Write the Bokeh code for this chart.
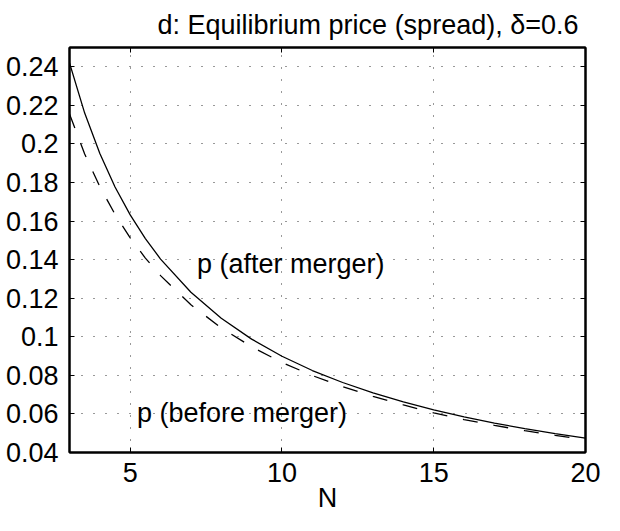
from bokeh.plotting import figure
from bokeh.models import FixedTicker, Label, LinearAxis, Range1d
from bokeh.embed import file_html
from bokeh.resources import INLINE

# ---- data ----
N = [3, 3.5, 4, 4.5, 5, 5.5, 6, 7, 8, 9, 10, 11, 12, 13, 14, 15, 16, 17, 18, 19, 20]
p_after = [0.242, 0.216, 0.195, 0.1777, 0.1632, 0.1509, 0.1403, 0.1231, 0.1096, 0.0988,
           0.0899, 0.0825, 0.0763, 0.0709, 0.0662, 0.0621, 0.0585, 0.0552, 0.0524, 0.0498, 0.0474]
p_before = [0.2155, 0.1948, 0.1778, 0.1635, 0.1513, 0.1408, 0.1317, 0.1166, 0.1046, 0.0948,
            0.0867, 0.0799, 0.0741, 0.0691, 0.0647, 0.0605, 0.0571, 0.0541, 0.0513, 0.0489, 0.0467]
x_ticks = [5, 10, 15, 20]
y_ticks = [0.04, 0.06, 0.08, 0.10, 0.12, 0.14, 0.16, 0.18, 0.20, 0.22, 0.24]
y_tick_labels = ["0.04", "0.06", "0.08", "0.1", "0.12", "0.14", "0.16", "0.18", "0.2", "0.22", "0.24"]
title_text = "d: Equilibrium price (spread), δ=0.6"
x_label = "N"
label_after = "p (after merger)"
label_before = "p (before merger)"

FONT = "Liberation Sans"
FS = "27px"

p = figure(width=604, height=515, output_backend="svg", toolbar_location=None,
           x_range=Range1d(3, 20), y_range=Range1d(0.04, 0.25),
           min_border_left=69, min_border_right=19, min_border_top=46, min_border_bottom=61)
p.background_fill_color = "white"
p.border_fill_color = "white"
p.outline_line_color = "black"
p.outline_line_width = 2

# title (right-aligned over the frame)
p.title.text = title_text
p.title.align = "right"
p.title.offset = 7
p.title.text_font = FONT
p.title.text_font_size = FS
p.title.text_font_style = "normal"
p.title.text_color = "black"
p.title.standoff = 15

# grid
for g in (p.xgrid, p.ygrid):
    g.grid_line_color = "black"
    g.grid_line_dash = "1 11"
    g.grid_line_width = 1
    g.grid_line_alpha = 0.8
p.xgrid.ticker = FixedTicker(ticks=x_ticks)
p.ygrid.ticker = FixedTicker(ticks=y_ticks)

def style_axis(ax, labels=True):
    ax.axis_line_color = "black"
    ax.axis_line_width = 2
    ax.major_tick_in = 5
    ax.major_tick_out = 0
    ax.minor_tick_line_color = None
    ax.major_tick_line_color = "black"
    ax.major_tick_line_width = 1
    ax.major_label_text_font = FONT
    ax.major_label_text_font_size = FS
    ax.major_label_text_color = "black"
    if not labels:
        ax.major_label_text_font_size = "1px"
        ax.major_label_text_color = None
        ax.major_label_standoff = 0

p.xaxis.ticker = FixedTicker(ticks=x_ticks)
p.yaxis.ticker = FixedTicker(ticks=y_ticks)
p.yaxis.major_label_overrides = {t: l for t, l in zip(y_ticks, y_tick_labels)}
style_axis(p.xaxis[0])
style_axis(p.yaxis[0])
p.xaxis.major_label_standoff = 10
p.yaxis.major_label_standoff = 11
p.xaxis.axis_label = x_label
p.xaxis.axis_label_text_font = FONT
p.xaxis.axis_label_text_font_size = FS
p.xaxis.axis_label_text_font_style = "normal"
p.xaxis.axis_label_text_color = "black"
p.xaxis.axis_label_standoff = -2

top = LinearAxis(ticker=FixedTicker(ticks=x_ticks))
style_axis(top, labels=False)
right = LinearAxis(ticker=FixedTicker(ticks=y_ticks))
style_axis(right, labels=False)
p.add_layout(top, "above")
p.add_layout(right, "right")

# curves
p.line(N, p_after, line_color="black", line_width=1.3)
p.line(N, p_before, line_color="black", line_width=1.3, line_dash="15 16")

# annotations inside the axes
p.add_layout(Label(x=7.2, y=0.138, text=label_after, text_font=FONT, text_font_size=FS,
                   text_baseline="alphabetic", text_align="left", text_color="black"))
p.add_layout(Label(x=5.22, y=0.0603, text=label_before, text_font=FONT, text_font_size=FS,
                   text_baseline="alphabetic", text_align="left", text_color="black"))

open("out.html", "w").write(file_html(p, INLINE))
